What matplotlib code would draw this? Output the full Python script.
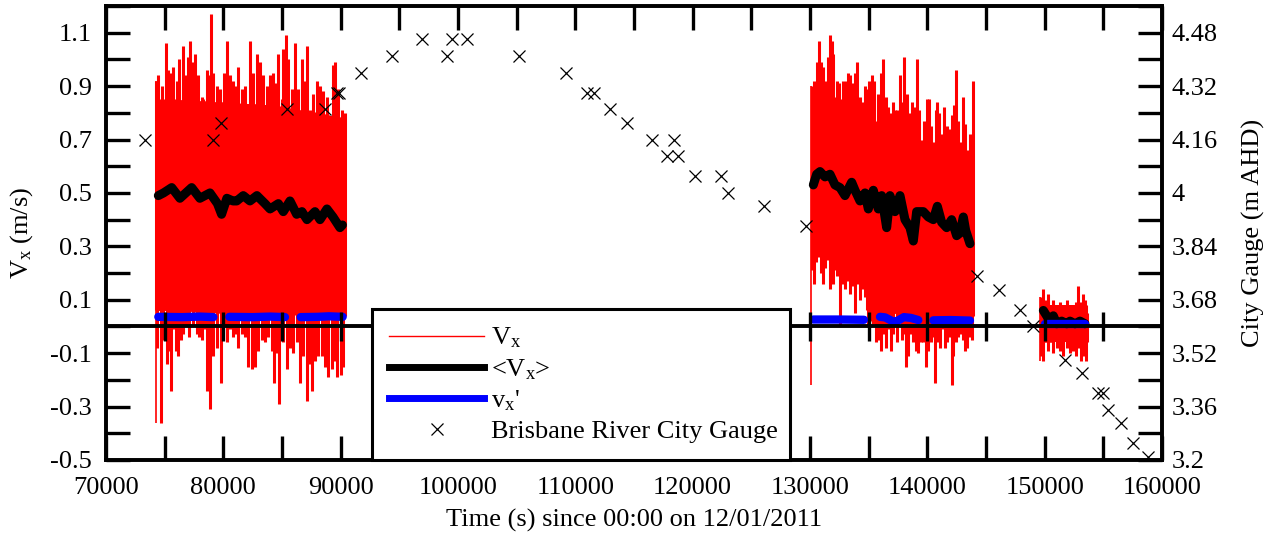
import numpy as np
import matplotlib
matplotlib.use("Agg")
import matplotlib.pyplot as plt
from matplotlib.lines import Line2D
from matplotlib.ticker import MultipleLocator, FixedLocator, FuncFormatter

plt.rcParams['font.family'] = ['Liberation Serif', 'DejaVu Serif']
plt.rcParams['mathtext.fontset'] = 'custom'
plt.rcParams['mathtext.rm'] = 'Liberation Serif'
plt.rcParams['mathtext.it'] = 'Liberation Serif:italic'

# ---------------- data ----------------
# Block 1 of instantaneous Vx: upward excursions (t, Vx)
vx1_peaks = [(74235, 0.92), (74460, 0.94), (74745, 0.90), (75086, 1.06), (75313, 0.96), (75540, 0.95),
             (75739, 0.97), (76023, 0.92), (76250, 1.00), (76591, 1.05), (76818, 0.94), (76960, 1.01),
             (77159, 1.07), (77386, 0.99), (77585, 1.02), (77869, 0.94), (78153, 0.86), (78295, 0.85),
             (78579, 0.96), (78806, 0.94), (78949, 1.17), (79148, 0.95), (79432, 0.90), (79716, 0.89),
             (80057, 0.95), (80284, 1.07), (80568, 0.94), (80852, 0.92), (81079, 0.90), (81278, 0.97),
             (81562, 0.89), (81846, 0.90), (82273, 1.07), (82557, 0.95), (82841, 1.02), (83125, 0.99),
             (83409, 0.94), (83693, 0.90), (83977, 0.94), (84261, 0.95), (84488, 0.91), (84687, 1.02),
             (84972, 0.85), (85114, 1.04), (85313, 1.09), (85540, 1.00), (85824, 0.89), (86108, 1.06),
             (86392, 0.89), (86676, 1.00), (86903, 0.92), (87102, 1.05), (87386, 0.81), (87670, 0.87),
             (87955, 0.92), (88239, 0.90), (88523, 0.88), (88807, 0.86), (89318, 0.98), (89517, 0.99),
             (89801, 0.89), (90085, 0.81), (90369, 0.80)]
vx1_troughs = [(74375, -0.08), (74659, -0.36), (74886, -0.05), (75170, -0.14), (75398, -0.09), (75511, -0.24),
               (75739, -0.01), (75966, -0.09), (76165, -0.11), (76364, -0.05), (76591, -0.03), (76818, 0.00),
               (77102, -0.04), (77443, 0.00), (77727, -0.03), (77954, -0.04), (78153, -0.05), (78437, -0.01),
               (78636, -0.24), (78863, -0.31), (79091, -0.11), (79432, -0.08), (79773, -0.21), (80057, 0.00),
               (80341, -0.06), (80568, -0.01), (80795, -0.04), (81079, -0.03), (81278, -0.08), (81562, -0.03),
               (81846, -0.04), (82131, -0.15), (82415, -0.16), (82699, -0.15), (82983, -0.09), (83267, -0.05),
               (83551, -0.06), (83835, -0.04), (84119, -0.09), (84318, -0.21), (84602, -0.10), (84772, -0.29),
               (85114, -0.06), (85398, -0.16), (85682, -0.08), (85966, -0.10), (86250, -0.06), (86534, -0.21),
               (86818, -0.11), (87102, -0.28), (87329, -0.14), (87528, -0.24), (87812, -0.13), (88096, -0.11),
               (88381, -0.11), (88665, -0.15), (88949, -0.19), (89233, -0.16), (89517, -0.13), (89716, -0.19),
               (90000, -0.18), (90227, -0.15)]
vx1_core_t = [74235, 76000, 80000, 84000, 88000, 90370]
vx1_core_lo = [0.06, 0.06, 0.05, 0.05, 0.04, 0.04]
vx1_core_hi = [0.85, 0.85, 0.84, 0.83, 0.80, 0.78]

# Block 2
vx2_peaks = [(130141, 0.90), (130340, 0.92), (130567, 0.99), (130766, 1.07), (130937, 0.99), (131136, 0.97),
             (131363, 0.92), (131562, 1.01), (131704, 1.09), (131874, 1.07), (131988, 1.02), (132158, 0.86),
             (132329, 0.92), (132499, 0.91), (132698, 0.85), (132840, 0.92), (133039, 0.92), (133266, 0.95),
             (133408, 0.94), (133693, 0.91), (133835, 0.95), (134033, 0.99), (134261, 0.86), (134488, 0.84),
             (134687, 0.90), (134829, 0.89), (135056, 0.92), (135255, 0.94), (135454, 0.92), (135681, 0.77),
             (135823, 0.87), (136050, 0.95), (136249, 1.00), (136477, 0.86), (136675, 0.82), (136874, 0.80),
             (137045, 0.84), (137244, 0.81), (137442, 0.81), (137670, 0.94), (137812, 0.84), (138011, 1.01),
             (138181, 0.77), (138295, 0.87), (138522, 0.80), (138664, 0.84), (138948, 0.82), (139090, 1.00),
             (139317, 0.81), (139516, 0.70), (139715, 0.77), (139942, 0.85), (140141, 0.85), (140283, 0.75),
             (140510, 0.69), (140709, 0.81), (140852, 0.84), (141022, 0.80), (141221, 0.72), (141420, 0.82),
             (141647, 0.75), (141874, 0.74), (142073, 0.79), (142272, 0.83), (142442, 0.96), (142641, 0.77),
             (142783, 0.69), (143010, 0.86), (143209, 0.76), (143408, 0.66), (143635, 0.72), (143777, 0.69),
             (143862, 0.92)]
vx2_troughs = [(130141, 0.21), (130340, 0.16), (130511, 0.24), (130710, 0.26), (130908, 0.20), (131079, 0.16),
               (131278, 0.22), (131477, 0.25), (131704, 0.14), (131931, 0.16), (132130, 0.21), (132329, 0.19),
               (132556, 0.00), (132783, 0.16), (132982, 0.14), (133181, 0.17), (133408, 0.12), (133636, 0.15),
               (133835, 0.05), (134033, 0.16), (134261, 0.10), (134488, 0.14), (134687, 0.11), (134829, 0.06),
               (134971, 0.00), (135170, 0.02), (135397, 0.01), (135624, -0.06), (135823, -0.05), (136022, -0.09),
               (136249, -0.03), (136477, -0.08), (136675, -0.01), (136874, -0.09), (137102, -0.03), (137386, -0.06),
               (137613, 0.04), (137812, -0.05), (138011, -0.03), (138181, -0.15), (138380, -0.11), (138579, -0.03),
               (138806, -0.06), (139033, -0.09), (139232, -0.10), (139431, -0.06), (139601, -0.06), (139885, -0.15),
               (140084, -0.09), (140283, -0.06), (140510, -0.04), (140653, -0.21), (140852, -0.06), (141079, -0.08),
               (141306, -0.01), (141505, -0.08), (141704, -0.06), (141931, -0.04), (142100, -0.22), (142215, -0.11),
               (142442, -0.06), (142641, -0.04), (142783, -0.03), (143010, -0.05), (143209, -0.09), (143351, -0.08),
               (143578, -0.04), (143777, -0.05)]
vx2_core_t = [130050, 134500, 135000, 137000, 140000, 143870]
vx2_core_lo = [0.27, 0.25, 0.08, 0.05, 0.04, 0.04]
vx2_core_hi = [0.83, 0.79, 0.77, 0.72, 0.66, 0.60]

# Block 3
vx3_peaks = [(149658, 0.11), (149829, 0.14), (150028, 0.10), (150312, 0.12), (150511, 0.04), (150738, 0.10),
             (151022, 0.06), (151306, 0.09), (151590, 0.07), (151874, 0.10), (152158, 0.05), (152442, 0.07),
             (152670, 0.09), (152869, 0.15), (153068, 0.09), (153238, 0.12), (153437, 0.10), (153579, 0.05)]
vx3_troughs = [(149658, -0.11), (149886, -0.13), (150113, -0.06), (150312, -0.09), (150511, -0.06), (150738, -0.10),
               (151022, -0.08), (151306, -0.09), (151590, -0.11), (151874, -0.08), (152158, -0.10), (152442, -0.09),
               (152670, -0.11), (152869, -0.08), (153068, -0.13), (153295, -0.11), (153522, -0.13)]
vx3_core_t = [149620, 153600]
vx3_core_lo = [-0.06, -0.06]
vx3_core_hi = [0.08, 0.08]

# Mean velocity <Vx>
mean1 = [(74460, 0.49), (74900, 0.50), (75600, 0.52), (76300, 0.48), (76800, 0.50), (77300, 0.52),
         (78000, 0.48), (78860, 0.50), (79500, 0.46), (79850, 0.42), (80300, 0.48), (80820, 0.47),
         (81140, 0.47), (81700, 0.49), (82270, 0.47), (82860, 0.49), (83550, 0.46), (83980, 0.44),
         (84690, 0.46), (85110, 0.43), (85680, 0.47), (86250, 0.42), (86700, 0.43), (87130, 0.40),
         (87810, 0.43), (88240, 0.40), (88830, 0.44), (89350, 0.41), (89940, 0.37), (90150, 0.38)]
mean2 = [(130283, 0.53), (130567, 0.57), (130852, 0.58), (131278, 0.56), (131704, 0.57), (132130, 0.53),
         (132556, 0.52), (132982, 0.49), (133550, 0.54), (133835, 0.51), (134261, 0.47), (134687, 0.50),
         (134971, 0.44), (135397, 0.51), (135823, 0.44), (136107, 0.49), (136533, 0.37), (136817, 0.49),
         (137244, 0.43), (137670, 0.49), (138096, 0.40), (138522, 0.37), (138806, 0.32), (139090, 0.43),
         (139658, 0.43), (140084, 0.41), (140510, 0.40), (140852, 0.45), (141221, 0.39), (141647, 0.37),
         (142073, 0.40), (142499, 0.34), (142783, 0.35), (143067, 0.41), (143266, 0.36), (143635, 0.31)]
mean3 = [(149886, 0.06), (150169, 0.04), (150454, 0.02), (150738, 0.04), (151022, 0.01), (151448, 0.02),
         (151874, 0.01), (152160, 0.02), (152584, 0.01), (153010, 0.02), (153436, 0.01)]

# Fluctuation vx' (segments)
fluct_segments = [
    [(74460, 0.036), (76500, 0.035), (78000, 0.037), (79148, 0.035)],
    [(80511, 0.036), (82500, 0.035), (84000, 0.037), (85256, 0.035)],
    [(86590, 0.035), (88000, 0.036), (89000, 0.038), (90170, 0.036)],
    [(130283, 0.026), (132500, 0.026), (134602, 0.025)],
    [(135965, 0.036), (136400, 0.034), (137100, 0.018), (137500, 0.022), (138000, 0.035),
     (138600, 0.032), (139232, 0.024)],
    [(140510, 0.023), (142000, 0.024), (143635, 0.022)],
    [(150027, 0.011), (153436, 0.011)],
]

# Brisbane River City Gauge (t, m AHD)
gauge = [(73324, 4.16), (79119, 4.16), (79801, 4.21), (85426, 4.25), (88665, 4.25), (89688, 4.30),
         (89858, 4.30), (91733, 4.36), (94375, 4.41), (96932, 4.46), (99063, 4.41), (99489, 4.46),
         (100767, 4.46), (105199, 4.41), (109205, 4.36), (110994, 4.30), (111591, 4.30), (112955, 4.25),
         (114403, 4.21), (116534, 4.16), (117812, 4.11), (118409, 4.16), (118750, 4.11), (120199, 4.05),
         (122415, 4.05), (123011, 4.00), (126080, 3.96), (129659, 3.90), (144233, 3.75), (146108, 3.71),
         (147898, 3.65), (149006, 3.60), (151733, 3.50), (153182, 3.46), (154545, 3.40), (154972, 3.40),
         (155398, 3.35), (156506, 3.31), (157528, 3.25), (158807, 3.21)]

left_ticks = [-0.5, -0.3, -0.1, 0.1, 0.3, 0.5, 0.7, 0.9, 1.1]
right_ticks = [3.2, 3.36, 3.52, 3.68, 3.84, 4.0, 4.16, 4.32, 4.48]

FS = 19
# ---------------- figure ----------------
fig = plt.figure(figsize=(12.78, 5.38), dpi=100)
ax = fig.add_axes([106 / 1278, 78 / 538, 1056 / 1278, 454 / 538])
ax.set_xlim(70000, 160000)
ax.set_ylim(-0.5, 1.2)

blocks = [(vx1_peaks, vx1_troughs, vx1_core_t, vx1_core_lo, vx1_core_hi),
          (vx2_peaks, vx2_troughs, vx2_core_t, vx2_core_lo, vx2_core_hi),
          (vx3_peaks, vx3_troughs, vx3_core_t, vx3_core_lo, vx3_core_hi)]
for peaks, troughs, ct, clo, chi in blocks:
    ct = np.array(ct, float)
    ax.fill_between(ct, clo, chi, color='#ff0000', lw=0, zorder=2)
    p = np.array(peaks, float)
    ax.vlines(p[:, 0], np.interp(p[:, 0], ct, clo), p[:, 1], color='#ff0000', lw=2.2, zorder=2)
    tr = np.array(troughs, float)
    ax.vlines(tr[:, 0], tr[:, 1], np.interp(tr[:, 0], ct, chi), color='#ff0000', lw=2.2, zorder=2)
    ax.vlines([ct[0]], [min(tr[:, 1].min(), clo[0])], [p[0, 1]], color='#ff0000', lw=1.2, zorder=2)

for m in (mean1, mean2, mean3):
    m = np.array(m, float)
    ax.plot(m[:, 0], m[:, 1], color='black', lw=6.5, solid_capstyle='round',
            solid_joinstyle='round', zorder=3)

for seg in fluct_segments:
    s = np.array(seg, float)
    ax.plot(s[:, 0], s[:, 1], color='#0000ff', lw=6, solid_capstyle='round',
            solid_joinstyle='round', zorder=4)

# zero axis with ticks
ax.axhline(0, color='black', lw=2.8, zorder=5)
for xt in np.arange(75000, 160000, 5000):
    ax.plot([xt, xt], [-0.056, 0.056], color='black', lw=2.4, zorder=5, solid_capstyle='butt')

for sp in ax.spines.values():
    sp.set_linewidth(2.6)

ax.xaxis.set_major_locator(MultipleLocator(10000))
ax.xaxis.set_minor_locator(MultipleLocator(5000))
ax.xaxis.set_major_formatter(FuncFormatter(lambda v, p: '%d' % v))
ax.yaxis.set_major_locator(FixedLocator(left_ticks))
ax.yaxis.set_minor_locator(MultipleLocator(0.1))
ax.yaxis.set_major_formatter(FuncFormatter(lambda v, p: '%.1f' % v))
ax.tick_params(axis='x', which='both', direction='in', length=17, width=2.4, top=True,
               labelsize=FS, pad=12)
ax.tick_params(axis='y', which='both', direction='in', length=17, width=2.4, right=False,
               labelsize=FS, pad=10)
ax.set_xlabel('Time (s) since 00:00 on 12/01/2011', fontsize=FS)
ax.xaxis.set_label_coords(0.5, -0.108)
ax.set_ylabel(r'V$_{\mathrm{x}}$ (m/s)', fontsize=FS)
ax.yaxis.set_label_coords(-0.067, 0.5)

ax2 = ax.twinx()
ax2.set_ylim(3.2, 4.56)
g = np.array(gauge, float)
ax2.plot(g[:, 0], g[:, 1], linestyle='none', marker='x', color='black', markersize=9,
         markeredgewidth=0.9, zorder=6)
ax2.yaxis.set_major_locator(FixedLocator(right_ticks))
ax2.yaxis.set_minor_locator(MultipleLocator(0.08))
ax2.yaxis.set_major_formatter(FuncFormatter(lambda v, p: '%g' % round(v, 2)))
ax2.tick_params(axis='y', which='both', direction='in', length=17, width=2.4,
                labelsize=FS, pad=7)
for sp in ax2.spines.values():
    sp.set_linewidth(2.6)
ax2.set_ylabel('City Gauge (m AHD)', fontsize=FS)
ax2.yaxis.set_label_coords(1.076, 0.5)

handles = [Line2D([], [], color='#ff0000', lw=1),
           Line2D([], [], color='black', lw=5),
           Line2D([], [], color='#0000ff', lw=5),
           Line2D([], [], color='black', marker='x', linestyle='none', markersize=9, markeredgewidth=0.9)]
labels = [r'V$_{\mathrm{x}}$', r'<V$_{\mathrm{x}}$>', r"v$_{\mathrm{x}}$'", 'Brisbane River City Gauge']
leg = ax2.legend(handles, labels, loc='lower left', bbox_to_anchor=(0.252, 0.0, 0.396, 0.337),
                 mode='expand', borderaxespad=0, fontsize=FS, fancybox=False, framealpha=1,
                 edgecolor='black', handlelength=3.6, handletextpad=0.25, borderpad=0.65,
                 labelspacing=0.25)
leg.get_frame().set_linewidth(2.2)
leg.set_zorder(20)

fig.savefig('out.png', dpi=100)
